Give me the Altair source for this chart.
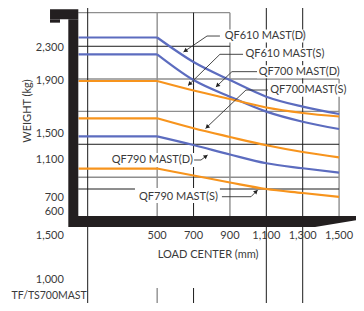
import math
import altair as alt
import pandas as pd

# ---------------- data ----------------
series_names = ["QF610 MAST(D)", "QF610 MAST(S)", "QF700 MAST(D)",
                "QF700 MAST(S)", "QF790 MAST(D)", "QF790 MAST(S)"]
series_group = ["blue", "blue", "orange", "orange", "blue", "orange"]
mast_start = 68                      # load centre where the curves begin (mm)
load_center = [500, 700, 900, 1100, 1300, 1500]
w_qf610_d = [2440, 2141, 1921, 1718, 1596, 1506]
w_qf610_s = [2235, 1921, 1718, 1535, 1412, 1323]
w_qf700_d = [1909, 1793, 1690, 1586, 1519, 1476]
w_qf700_s = [1454, 1332, 1226, 1125, 1043, 978]
w_qf790_d = [1234, 1128, 1012, 905, 844, 790]
w_qf790_s = [841, 756, 671, 591, 542, 494]
weights = [w_qf610_d, w_qf610_s, w_qf700_d, w_qf700_s, w_qf790_d, w_qf790_s]

x_tick_values = [500, 700, 900, 1100, 1300, 1500]
y_tick_text = ["2,300", "1,900", "1,500", "1,100", "700", "600", "1,500", "1,000"]
y_tick_at = [2316, 1909, 1262, 951, 481, 311, 18, -519]

# label annotations (data units: mm, kg)
ann_text = ["QF610 MAST(D)", "QF610 MAST(S)", "QF700 MAST(D)",
            "QF700MAST(S)", "QF790 MAST(D)", "QF790 MAST(S)"]
ann_x = [871, 985, 1058, 1122, 250, 400]
ann_y = [2458, 2235, 2023, 1799, 945, 497]
box_x = [859, 975, 1049, 1112, 230, 378]
box_x2 = [1304, 1417, 1500, 1543, 714, 845]
box_y = [2538, 2314, 2102, 1879, 1031, 603]
box_y2 = [2379, 2153, 1943, 1718, 860, 420]
lead_from_x = [845, 972, 1049, 1109, 703, 856]
lead_elbow_x = [774, 845, 911, 988, 741, 1016]
tip_x = [645, 670, 823, 766, 777, 1052]
tip_y = [2263, 1854, 1836, 1330, 1006, 579]

# grid segments (x, x2, y, y2)
grid_gray = [(66, 900, 2743, 2743), (66, 1500, 1934, 1934), (66, 1500, 1539, 1539),
             (66, 1500, 734, 734), (500, 500, 2743, 262), (500, 500, -617, -800),
             (900, 900, 2743, 262), (1500, 1500, 1934, 262)]
grid_black = [(66, 900, 2333, 2333), (66, 1500, 1137, 1137), (66, 1500, 591, 591),
              (700, 700, 2743, 262), (700, 700, -617, -800),
              (118, 118, 2800, -800), (1100, 1100, 2800, -800), (1300, 1300, 2800, -800)]

# forklift silhouette
fork_rects = [(11.5, 66.5, 2662, 262), (-89, 66.5, 2784, 2662), (-89, -34, 2662, 2621)]
fork_x = [11.5, 1368, 1593]
fork_top = [262, 262, 262]
fork_bottom = [127.5, 127.5, 209]

# ---------------- chart ----------------
W, H = 348, 295
XD, YD = [-320, 1593], [-800, 2800]
xs = alt.Scale(domain=XD, nice=False, zero=False)
ys = alt.Scale(domain=YD, nice=False, zero=False)
PX_X = W / (XD[1] - XD[0])
PX_Y = H / (YD[1] - YD[0])
FONT = "Lato"
FS = 11
TXT = "#3a3a3a"


def X(f="x"):
    return alt.X(f"{f}:Q", scale=xs, axis=None)


def Y(f="y"):
    return alt.Y(f"{f}:Q", scale=ys, axis=None)


rows = []
for name, grp, w in zip(series_names, series_group, weights):
    rows.append(dict(series=name, seg="flat", grp=grp, x=mast_start, y=w[0], o=0))
    rows.append(dict(series=name, seg="flat", grp=grp, x=load_center[0], y=w[0], o=1))
    for i, (lc, v) in enumerate(zip(load_center, w)):
        rows.append(dict(series=name, seg="curve", grp=grp, x=lc, y=v, o=i))
curves_df = pd.DataFrame(rows)
curves_df["key"] = curves_df["series"] + curves_df["seg"]

gray_df = pd.DataFrame(grid_gray, columns=["x", "x2", "y", "y2"])
black_df = pd.DataFrame(grid_black, columns=["x", "x2", "y", "y2"])

gray = alt.Chart(gray_df).mark_rule(color="#8e8e8e", strokeWidth=1.4).encode(
    x=X(), x2="x2:Q", y=Y(), y2="y2:Q")
black = alt.Chart(black_df).mark_rule(color="#1c1c1c", strokeWidth=1).encode(
    x=X(), x2="x2:Q", y=Y(), y2="y2:Q")

box_df = pd.DataFrame(dict(x=box_x, x2=box_x2, y=box_y, y2=box_y2))
boxes = alt.Chart(box_df).mark_rect(color="white").encode(
    x=X(), x2="x2:Q", y=Y(), y2="y2:Q")

curves = alt.Chart(curves_df).mark_line(strokeWidth=2.2, interpolate="monotone").encode(
    x=X(), y=Y(), detail="key:N", order="o:Q",
    color=alt.Color("grp:N", legend=None,
                    scale=alt.Scale(domain=["blue", "orange"], range=["#5c6cbf", "#f7941d"])))

ann_df = pd.DataFrame(dict(t=ann_text, x=ann_x, y=ann_y))
ann = alt.Chart(ann_df).mark_text(align="left", baseline="middle", font=FONT,
                                  fontSize=FS, color=TXT).encode(x=X(), y=Y(), text="t:N")

seg_rows = []
head_rows = []
for fx, ex, ly, tx, ty in zip(lead_from_x, lead_elbow_x, ann_y, tip_x, tip_y):
    seg_rows.append(dict(x=fx, x2=ex, y=ly, y2=ly))
    seg_rows.append(dict(x=ex, x2=tx, y=ly, y2=ty))
    dxp = (tx - ex) * PX_X
    dyp = -(ty - ly) * PX_Y
    L = math.hypot(dxp, dyp)
    ang = (math.degrees(math.atan2(dxp, -dyp)) + 360) % 360
    back = 2.0
    hx = tx - dxp / L * back / PX_X
    hy = ty + dyp / L * back / PX_Y
    head_rows.append(dict(x=hx, y=hy, a=ang))
lead = alt.Chart(pd.DataFrame(seg_rows)).mark_rule(color="#333333", strokeWidth=0.9).encode(
    x=X(), x2="x2:Q", y=Y(), y2="y2:Q")
heads = alt.Chart(pd.DataFrame(head_rows)).mark_point(
    shape="triangle-up", filled=True, size=22, color="#222222", opacity=1).encode(
    x=X(), y=Y(), angle=alt.Angle("a:Q", scale=None))

fork_r_df = pd.DataFrame(fork_rects, columns=["x", "x2", "y", "y2"])
fork_r = alt.Chart(fork_r_df).mark_rect(color="#231f20").encode(
    x=X(), x2="x2:Q", y=Y(), y2="y2:Q")
fork_a = alt.Chart(pd.DataFrame(dict(x=fork_x, y=fork_top, y2=fork_bottom))).mark_area(
    color="#231f20").encode(x=X(), y=Y(), y2="y2:Q")

xt_df = pd.DataFrame(dict(x=x_tick_values, y=[18] * len(x_tick_values),
                          t=[f"{v:,}" for v in x_tick_values]))
xticks = alt.Chart(xt_df).mark_text(baseline="middle", align="center", font=FONT,
                                    fontSize=FS, color=TXT).encode(x=X(), y=Y(), text="t:N")
yt_df = pd.DataFrame(dict(x=[-13] * len(y_tick_text), y=y_tick_at, t=y_tick_text))
yticks = alt.Chart(yt_df).mark_text(baseline="middle", align="right", font=FONT,
                                    fontSize=FS, color=TXT).encode(x=X(), y=Y(), text="t:N")

titles_df = pd.DataFrame(dict(x=[780], y=[-214], t=["LOAD CENTER (mm)"]))
xtitle = alt.Chart(titles_df).mark_text(baseline="middle", align="center", font=FONT,
                                        fontSize=FS, color=TXT).encode(x=X(), y=Y(), text="t:N")
ytitle = alt.Chart(pd.DataFrame(dict(x=[-208], y=[1543], t=["WEIGHT (kg)"]))).mark_text(
    baseline="middle", align="center", angle=270, font=FONT, fontSize=FS, color=TXT).encode(
    x=X(), y=Y(), text="t:N")
mast = alt.Chart(pd.DataFrame(dict(x=[113], y=[-711], t=["TF/TS700MAST"]))).mark_text(
    baseline="middle", align="right", font=FONT, fontSize=10.5, color=TXT).encode(
    x=X(), y=Y(), text="t:N")

chart = alt.layer(gray, black, boxes, curves, ann, lead, heads, fork_r, fork_a,
                  xticks, yticks, xtitle, ytitle, mast).properties(
    width=W, height=H, autosize=alt.AutoSizeParams(type="none"), padding=0
).configure_view(stroke=None)

chart.save("out.html", embed_options={"renderer": "svg", "actions": False})
